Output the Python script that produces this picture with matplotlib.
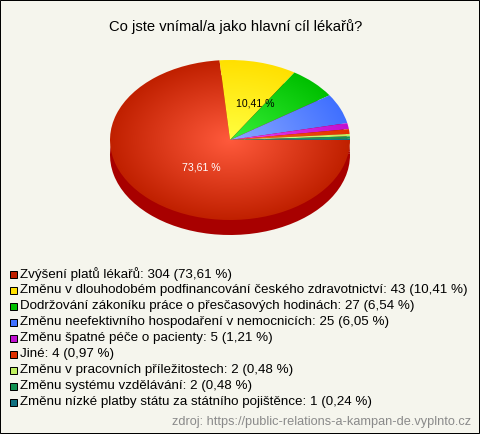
import numpy as np
import matplotlib
matplotlib.use("Agg")
import matplotlib.pyplot as plt
from matplotlib.colors import LinearSegmentedColormap
from matplotlib.patches import Rectangle

labels = ["Zvýšení platů lékařů", "Změnu v dlouhodobém podfinancování českého zdravotnictví",
          "Dodržování zákoníku práce o přesčasových hodinách", "Změnu neefektivního hospodaření v nemocnicích",
          "Změnu špatné péče o pacienty", "Jiné", "Změnu v pracovních příležitostech",
          "Změnu systému vzdělávání", "Změnu nízké platby státu za státního pojištěnce"]
counts = [304, 43, 27, 25, 5, 4, 2, 2, 1]
percents = ["73,61", "10,41", "6,54", "6,05", "1,21", "0,97", "0,48", "0,48", "0,24"]
inner_colors = ["#ff5a3c", "#ffff40", "#38f038", "#8aa8ff", "#f040f0", "#ff6a20", "#e8ff90", "#30b070", "#3090a0"]
outer_colors = ["#c02000", "#ffe000", "#00c000", "#4070ff", "#c010d0", "#e03000", "#c0f060", "#109050", "#107080"]
legend_colors = ["#c02000", "#ffe000", "#00c000", "#4070ff", "#c010d0", "#e03000", "#c0f060", "#109050", "#107080"]

W, H = 480, 434
BG = "#f5f5ed"
plt.rcParams["font.family"] = ["Liberation Sans", "DejaVu Sans"]

fig = plt.figure(figsize=(W / 100, H / 100), dpi=100, facecolor=BG)
bg = fig.add_axes([0, 0, 1, 1])
bg.set_xlim(0, W)
bg.set_ylim(H, 0)
bg.axis("off")
bg.add_patch(Rectangle((0.5, 0.5), W - 1, H - 1, fc=BG, ec="black", lw=0.72, snap=False, clip_on=False))

# pie, squashed by letting the axes be wider than tall
cx, cy, rx, ry, depth = 230, 140, 120, 80, 15


def pie_axes(y_center):
    ax = fig.add_axes([(cx - rx) / W, 1 - (y_center + ry) / H, 2 * rx / W, 2 * ry / H])
    wedges, _ = ax.pie(counts, startangle=0, counterclock=False, radius=1)
    ax.set_aspect("auto")
    ax.set_xlim(-1, 1)
    ax.set_ylim(-1, 1)
    ax.patch.set_alpha(0)
    return ax, wedges


ax_side, side = pie_axes(cy + depth)
for w in side:
    w.set_facecolor("#a80000")

ax, wedges = pie_axes(cy)
grid = np.linspace(-1, 1, 300)
xx, yy = np.meshgrid(grid, grid)
rr = np.clip(np.hypot(xx, yy), 0, 1)
for w, c0, c1 in zip(wedges, inner_colors, outer_colors):
    w.set_facecolor("none")
    w.set_edgecolor("none")
    cmap = LinearSegmentedColormap.from_list("g", [c0, c1])
    im = ax.imshow(rr, cmap=cmap, vmin=0, vmax=1, extent=(-1, 1, -1, 1), origin="lower", aspect="auto", zorder=2)
    im.set_clip_path(w)
ax.set_xlim(-1, 1)
ax.set_ylim(-1, 1)

bg.set_zorder(-1)
txt = fig.add_axes([0, 0, 1, 1])
txt.set_xlim(0, W)
txt.set_ylim(H, 0)
txt.axis("off")
txt.text(236, 27, "Co jste vnímal/a jako hlavní cíl lékařů?", ha="center", va="center", fontsize=10.6, color="black")
txt.text(201, 168, percents[0] + " %", ha="center", va="center", fontsize=7.6, color="white")
txt.text(255, 103, percents[1] + " %", ha="center", va="center", fontsize=7.6, color="black")

for i, (lab, n, p, col) in enumerate(zip(labels, counts, percents, legend_colors)):
    y = 274 + i * 16.05
    txt.add_patch(Rectangle((9.5, y - 3.5), 7, 7, fc=col, ec="black", lw=0.72))
    txt.text(20, y, f"{lab}: {n} ({p} %)", ha="left", va="center", fontsize=9.66, color="black")
txt.text(471, 422, "zdroj: https://public-relations-a-kampan-de.vyplnto.cz", ha="right", va="center", fontsize=9.2, color="#8a8a8a")

fig.savefig("out.png", dpi=100, facecolor=BG)
